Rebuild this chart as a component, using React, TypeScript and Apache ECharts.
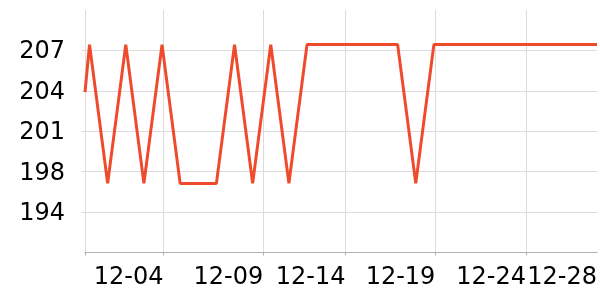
import React, { useEffect, useRef } from "react";
import * as echarts from "echarts";

// Daily readings (first reading taken the evening before 11-30)
const dates: string[] = [
  "2023-11-29T18:00:00Z",
  "2023-11-30T00:00:00Z", "2023-12-01T00:00:00Z", "2023-12-02T00:00:00Z", "2023-12-03T00:00:00Z",
  "2023-12-04T00:00:00Z", "2023-12-05T00:00:00Z", "2023-12-06T00:00:00Z", "2023-12-07T00:00:00Z",
  "2023-12-08T00:00:00Z", "2023-12-09T00:00:00Z", "2023-12-10T00:00:00Z", "2023-12-11T00:00:00Z",
  "2023-12-12T00:00:00Z", "2023-12-13T00:00:00Z", "2023-12-14T00:00:00Z", "2023-12-15T00:00:00Z",
  "2023-12-16T00:00:00Z", "2023-12-17T00:00:00Z", "2023-12-18T00:00:00Z", "2023-12-19T00:00:00Z",
  "2023-12-20T00:00:00Z", "2023-12-21T00:00:00Z", "2023-12-22T00:00:00Z", "2023-12-23T00:00:00Z",
  "2023-12-24T00:00:00Z", "2023-12-25T00:00:00Z", "2023-12-26T00:00:00Z", "2023-12-27T00:00:00Z",
  "2023-12-28T00:00:00Z",
];

const values: number[] = [
  203.9,
  207.66, 196.67, 207.66, 196.67,
  207.66, 196.67, 196.67, 196.67,
  207.66, 196.67, 207.66, 196.67,
  207.66, 207.66, 207.66, 207.66,
  207.66, 207.66, 196.67, 207.66,
  207.66, 207.66, 207.66, 207.66,
  207.66, 207.66, 207.66, 207.66,
  207.66,
];

// X axis tick positions and their labels
const xTickTimes: string[] = [
  "2023-12-04T02:00:00Z",
  "2023-12-09T14:00:00Z",
  "2023-12-14T03:00:00Z",
  "2023-12-19T02:00:00Z",
  "2023-12-24T02:00:00Z",
];
const xLabelTimes: string[] = [
  "2023-12-04T02:00:00Z",
  "2023-12-09T14:00:00Z",
  "2023-12-14T03:00:00Z",
  "2023-12-19T02:00:00Z",
  "2023-12-24T02:00:00Z",
  "2023-12-28T00:00:00Z",
];
const xTickLabels: string[] = ["12-04", "12-09", "12-14", "12-19", "12-24", "12-28"];

// Y axis range, tick positions and labels
const yMin = 191.2;
const yMax = 210.4;
const yTicks: number[] = [194.4, 197.6, 200.8, 204.0, 207.2];
const yTickLabels: string[] = ["194", "198", "201", "204", "207"];

export default function App() {
  const ref = useRef<HTMLDivElement>(null);

  useEffect(() => {
    if (!ref.current) return;
    const chart = echarts.init(ref.current, undefined, { renderer: "svg" });
    const ts = dates.map((d) => Date.parse(d));
    const xTicks = xTickTimes.map((d) => Date.parse(d));
    const xLabels = xLabelTimes.map((d) => Date.parse(d));
    const tMin = ts[0];
    const tMax = ts[ts.length - 1];
    const font = "DejaVu Sans";

    chart.setOption({
      animation: false,
      grid: { left: 85, right: 0, top: 10, bottom: 47.5, containLabel: false },
      xAxis: {
        type: "value",
        min: tMin,
        max: tMax,
        scale: true,
        axisLine: { show: true, lineStyle: { color: "#b0b0b0", width: 1 } },
        axisTick: {
          show: true,
          length: 3,
          customValues: [tMin, ...xTicks],
          lineStyle: { color: "#b0b0b0" },
        },
        splitLine: { show: true, lineStyle: { color: "#dcdcdc", width: 1 } },
        axisLabel: {
          customValues: xLabels,
          align: "right",
          margin: 11,
          fontSize: 24,
          fontFamily: font,
          color: "#000",
          formatter: (v: number) => {
            const i = xLabels.indexOf(v);
            return i >= 0 ? xTickLabels[i] : "";
          },
        },
      },
      yAxis: {
        type: "value",
        min: yMin,
        max: yMax,
        axisLine: { show: false },
        axisTick: {
          show: true,
          length: 3,
          customValues: yTicks,
          lineStyle: { color: "#dcdcdc" },
        },
        splitLine: { show: true, lineStyle: { color: "#dcdcdc", width: 1 } },
        axisLabel: {
          customValues: yTicks,
          margin: 20,
          fontSize: 24,
          fontFamily: font,
          color: "#000",
          formatter: (v: number) => {
            const i = yTicks.findIndex((t) => Math.abs(t - v) < 1e-6);
            return i >= 0 ? yTickLabels[i] : "";
          },
        },
      },
      series: [
        {
          type: "line",
          data: ts.map((t, i) => [t, values[i]]),
          showSymbol: false,
          symbol: "none",
          lineStyle: { color: "#ef4a2b", width: 3 },
          itemStyle: { color: "#ef4a2b" },
          clip: true,
        },
      ],
    });

    return () => chart.dispose();
  }, []);

  return (
    <div
      ref={ref}
      style={{ position: "fixed", left: 0, top: 0, width: 600, height: 300 }}
    />
  );
}
